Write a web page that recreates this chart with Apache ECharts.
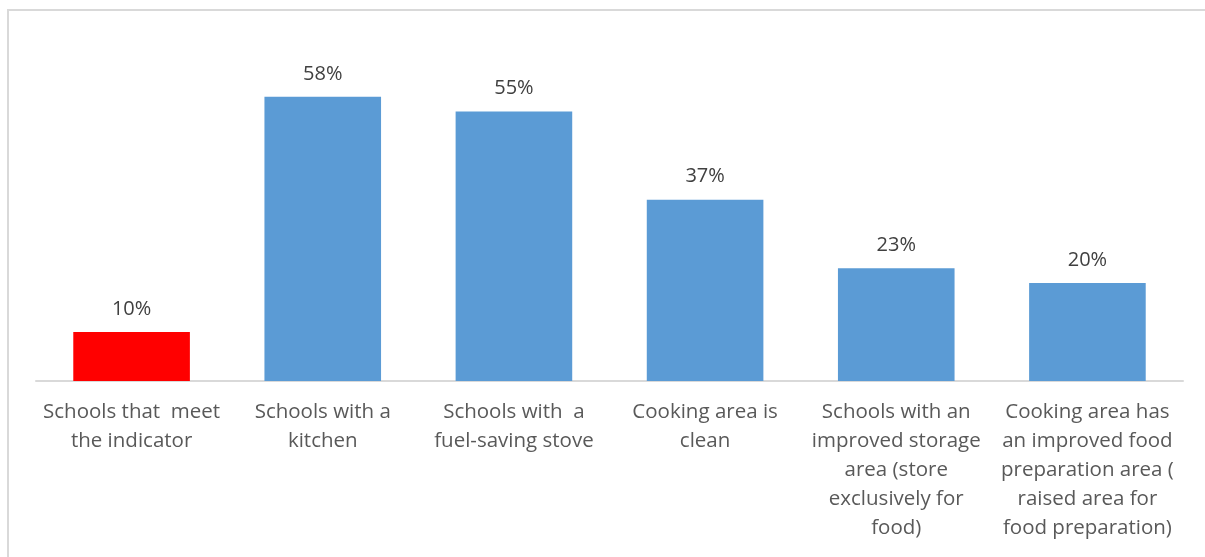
<!DOCTYPE html>
<html>
<head>
<meta charset="utf-8">
<script src="https://cdn.jsdelivr.net/npm/echarts@6/dist/echarts.min.js"></script>
<style>
html,body{margin:0;padding:0;background:#fff;}
#main{width:1205px;height:557px;}
</style>
</head>
<body>
<div id="main"></div>
<script>
const categories = [
  "Schools that  meet\nthe indicator",
  "Schools with a\nkitchen",
  "Schools with  a\nfuel-saving stove",
  "Cooking area is\nclean",
  "Schools with an\nimproved storage\narea (store\nexclusively for\nfood)",
  "Cooking area has\nan improved food\npreparation area (\nraised area for\nfood preparation)"
];
const values = [10, 58, 55, 37, 23, 20];
const barColors = ["#ff0000", "#5b9bd5", "#5b9bd5", "#5b9bd5", "#5b9bd5", "#5b9bd5"];

const chart = echarts.init(document.getElementById('main'), null, {renderer: 'canvas'});
const font = "'Open Sans', 'Liberation Sans', sans-serif";
chart.setOption({
  animation: false,
  backgroundColor: '#ffffff',
  graphic: [{
    type: 'rect',
    shape: {x: 8, y: 10, width: 1220, height: 600},
    style: {fill: 'none', stroke: '#d9d9d9', lineWidth: 2},
    silent: true
  }],
  grid: {left: 36, right: 22, top: 38, bottom: 176, containLabel: false},
  xAxis: {
    type: 'category',
    data: categories,
    axisLine: {lineStyle: {color: '#d9d9d9', width: 2}},
    axisTick: {show: false},
    axisLabel: {
      interval: 0,
      color: '#595959',
      fontFamily: font,
      fontSize: 20.5,
      lineHeight: 29,
      margin: 17
    }
  },
  yAxis: {
    type: 'value',
    min: 0, max: 70,
    show: false,
    splitLine: {show: false}
  },
  series: [{
    type: 'bar',
    barWidth: '61%',
    data: values.map((v, i) => ({value: v, itemStyle: {color: barColors[i]}})),
    label: {
      show: true,
      position: 'top',
      distance: 13,
      formatter: p => p.value + '%',
      color: '#404040',
      fontFamily: font,
      fontSize: 20
    }
  }]
});
</script>
</body>
</html>
